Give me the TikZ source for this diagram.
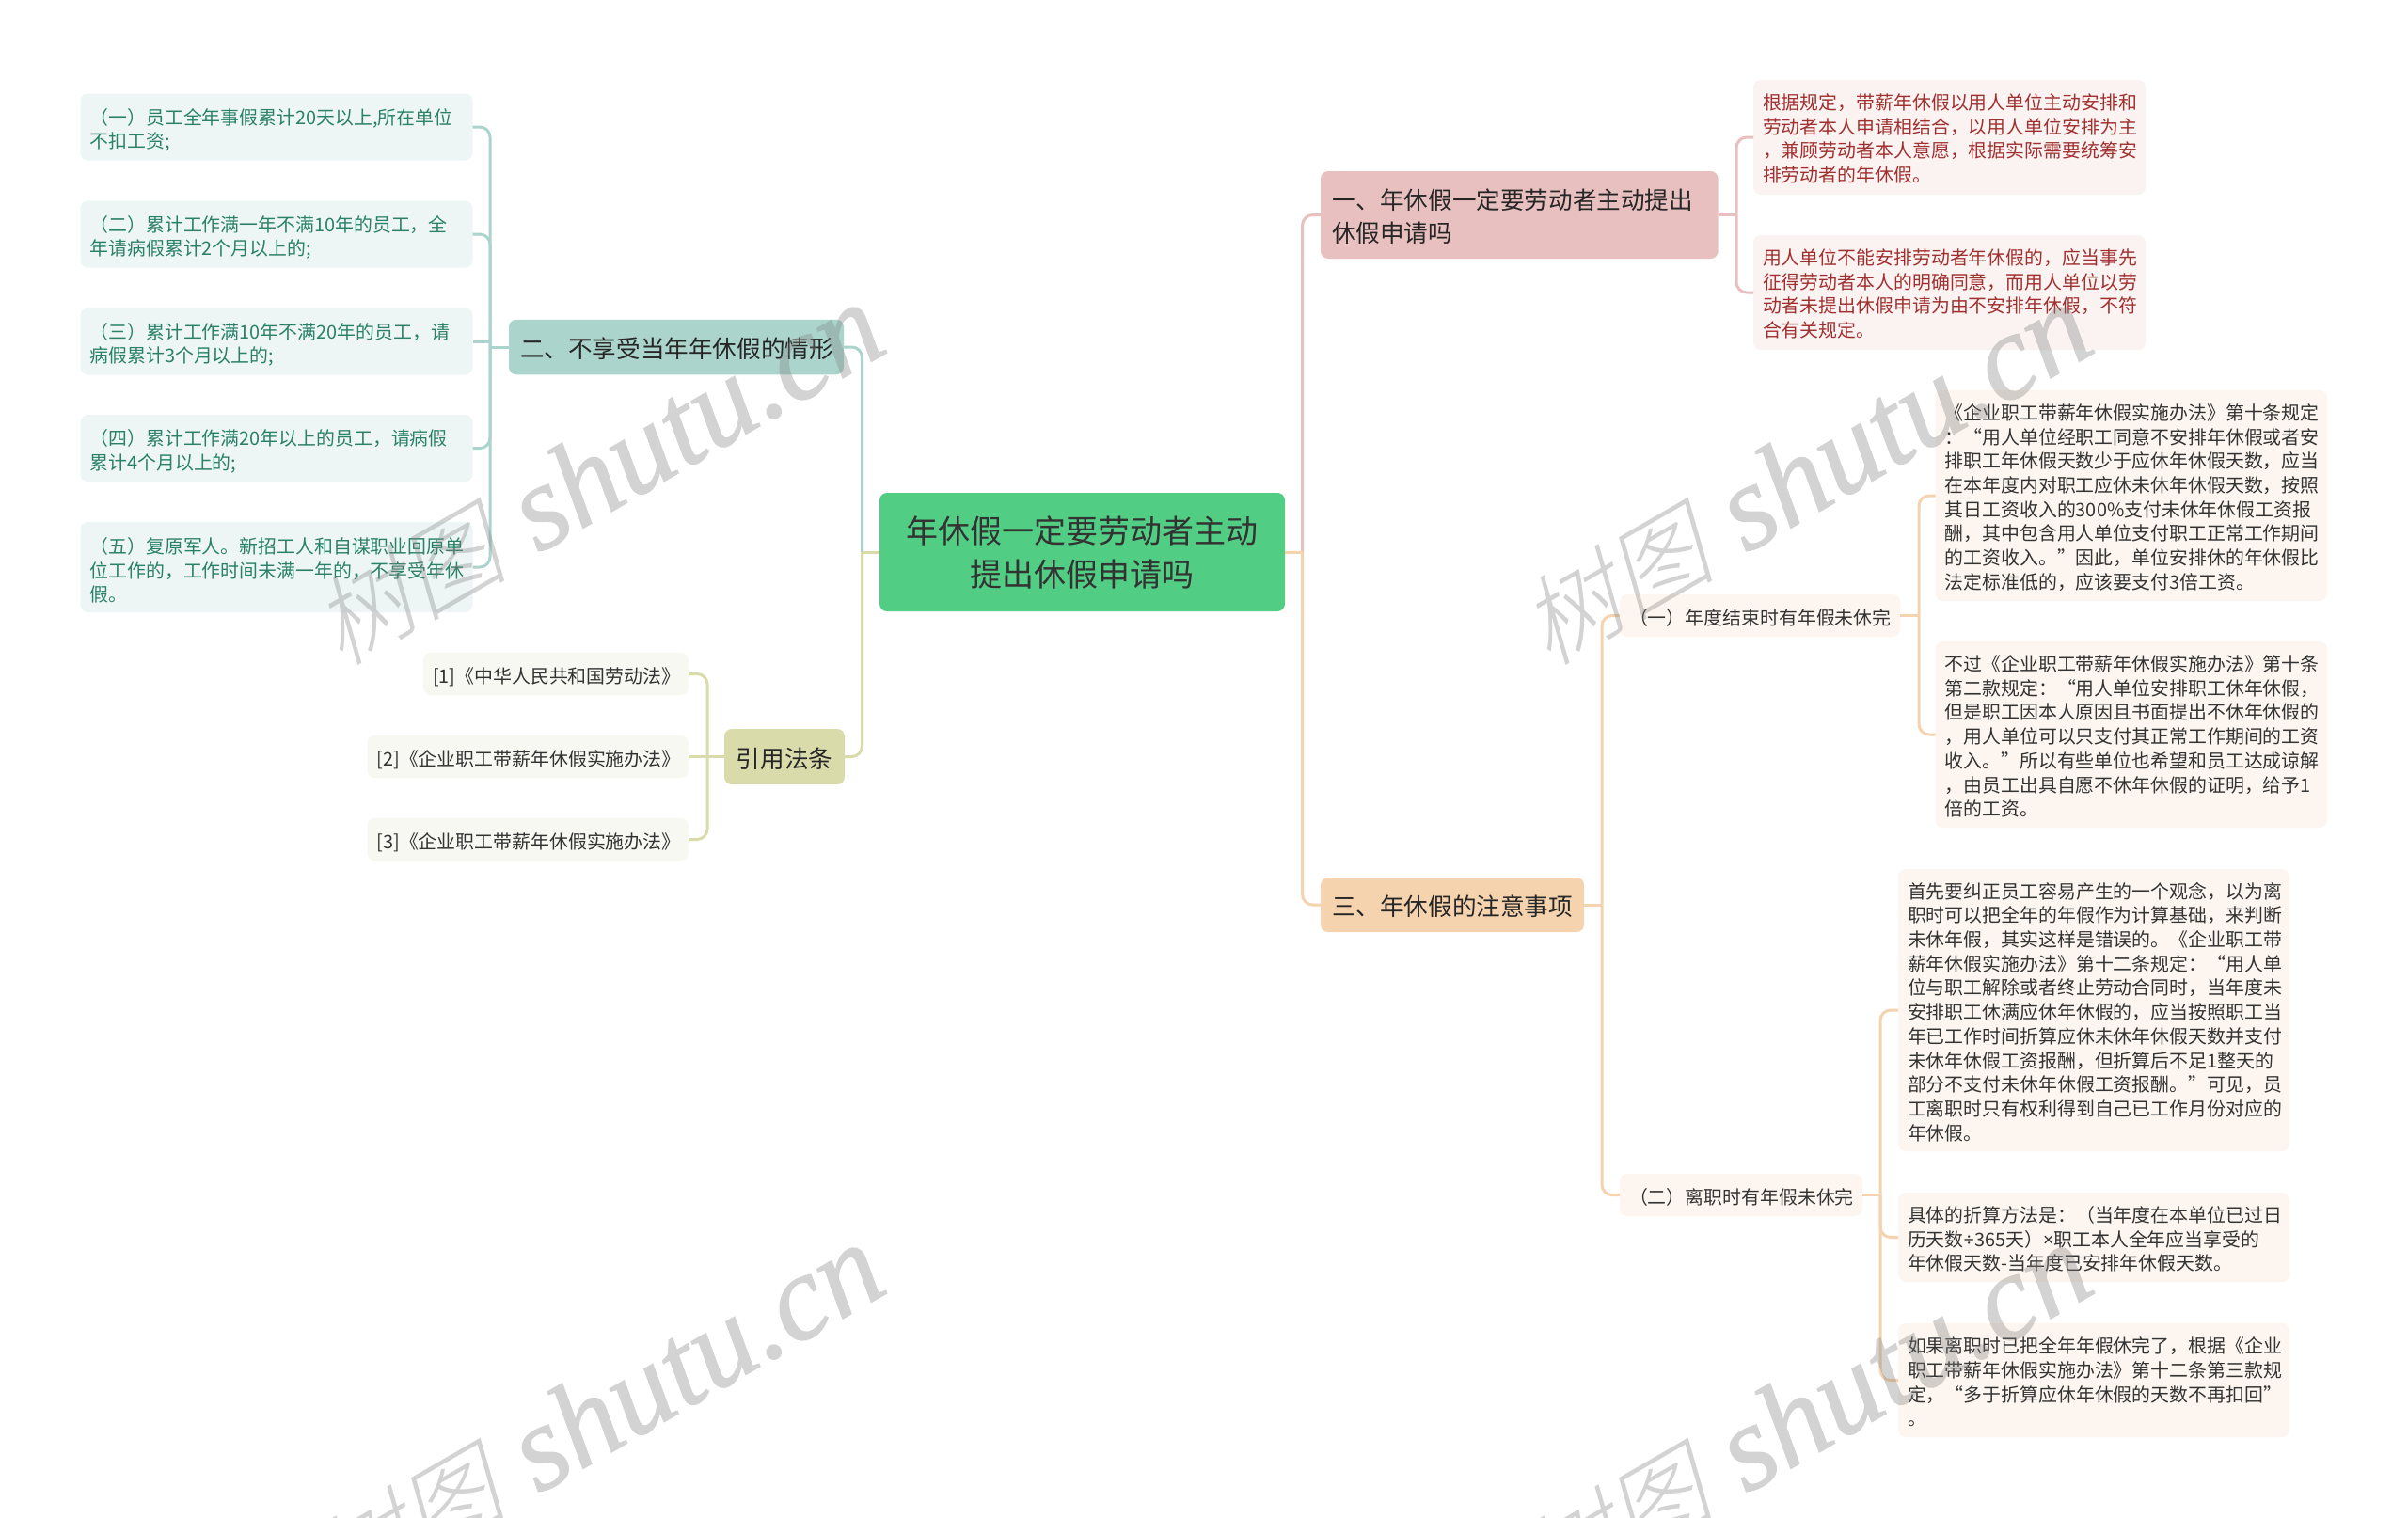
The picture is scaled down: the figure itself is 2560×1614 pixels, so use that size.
\documentclass[tikz,border=0pt]{standalone}
\usepackage{fontspec}
\setmainfont{Noto Sans CJK SC}
\newfontfamily\wmlatin[FakeBold=1]{Liberation Serif Italic}
\newfontfamily\wmcjk[FakeSlant=0.25]{Noto Sans CJK SC Light}
\newfontfamily\latinpart{Noto Sans}
\definecolor{cMain}{HTML}{52CE84}
\definecolor{cTeal}{HTML}{ABD5CC}
\definecolor{cTealL}{HTML}{EEF6F5}
\definecolor{cTealT}{HTML}{2A8068}
\definecolor{cOlive}{HTML}{D9DBAB}
\definecolor{cOliveL}{HTML}{F7F8F2}
\definecolor{cPink}{HTML}{E8C0BF}
\definecolor{cPinkL}{HTML}{FAF3F2}
\definecolor{cPinkT}{HTML}{A03030}
\definecolor{cOrange}{HTML}{F5D3AE}
\definecolor{cOrangeL}{HTML}{FDF6F0}
\definecolor{cText}{HTML}{333333}
\tikzset{
  boxsize/.style 2 args={minimum width=#1pt,minimum height=#2pt,text width=#1pt-20pt},
  branchsize/.style 2 args={minimum width=#1pt,minimum height=#2pt,text width=#1pt-24pt},
  lower/.style={execute at begin node={\rule{0pt}{\dimexpr.9em+#1pt\relax}}},
  basebox/.style={rounded corners=8pt,inner ysep=0pt,outer sep=0pt,inner xsep=10pt,align=left,text=cText,font=\fontsize{19.9}{25.7}\selectfont},
  branch/.style={basebox,inner xsep=12pt,lower=3,font=\fontsize{25.6}{35}\selectfont,text=black!85},
  rootbox/.style={basebox,fill=cMain,align=center,text=black!80,font=\fontsize{34}{46}\selectfont},
  tealleaf/.style={basebox,lower=6,fill=cTealL,text=cTealT},
  oliveleaf/.style={basebox,lower=6,fill=cOliveL,align=center},
  pinkleaf/.style={basebox,lower=2,fill=cPinkL,text=cPinkT},
  orangeleaf/.style={basebox,lower=3,fill=cOrangeL},
  link/.style={line width=3pt,rounded corners=11pt},
  watermark/.style={anchor=base east,rotate=30,text=gray,inner sep=0pt},
}
\newcommand{\wmtext}{{\fontsize{104}{104}\selectfont\wmcjk 树图}\hspace{34pt}{\fontsize{129}{129}\selectfont\wmlatin shutu.cn}}
\begin{document}
\begin{tikzpicture}[x=1pt,y=-1pt]
\useasboundingbox (0,0) rectangle (2560,1614);
\fill[white] (0,0) rectangle (2560,1614);

% nodes
\node[rootbox,boxsize={431}{126}] (root) at (1150.5,587) {年休假一定要劳动者主动\\提出休假申请吗};

\node[branch,fill=cTeal,branchsize={356}{58.5}] (b2) at (719,369) {二、不享受当年年休假的情形};
\node[tealleaf,boxsize={417}{71}] (l1) at (294,135) {（一）员工全年事假累计20天以上,所在单位\\不扣工资;};
\node[tealleaf,boxsize={417}{71}] (l2) at (294,249) {（二）累计工作满一年不满10年的员工，全\\年请病假累计2个月以上的;};
\node[tealleaf,boxsize={417}{71}] (l3) at (294,363) {（三）累计工作满10年不满20年的员工，请\\病假累计3个月以上的;};
\node[tealleaf,boxsize={417}{71}] (l4) at (294,476.6) {（四）累计工作满20年以上的员工，请病假\\累计4个月以上的;};
\node[tealleaf,boxsize={417}{96}] (l5) at (294,603) {（五）复原军人。新招工人和自谋职业回原单\\位工作的，工作时间未满一年的，不享受年休\\假。};

\node[branch,fill=cOlive,align=center,branchsize={128}{59}] (b4) at (834,804.5) {引用法条};
\node[oliveleaf,boxsize={282}{45}] (r1) at (591,716.5) {[1]《中华人民共和国劳动法》};
\node[oliveleaf,boxsize={341.5}{45}] (r2) at (561.25,804.5) {[2]《企业职工带薪年休假实施办法》};
\node[oliveleaf,boxsize={341.5}{45}] (r3) at (561.25,892.5) {[3]《企业职工带薪年休假实施办法》};

\node[branch,fill=cPink,branchsize={422.6}{93}] (b1) at (1615.3,228.5) {一、年休假一定要劳动者主动提出\\休假申请吗};
\node[pinkleaf,boxsize={417}{122}] (p1) at (2072.5,146) {根据规定，带薪年休假以用人单位主动安排和\\劳动者本人申请相结合，以用人单位安排为主\\，兼顾劳动者本人意愿，根据实际需要统筹安\\排劳动者的年休假。};
\node[pinkleaf,boxsize={417}{122}] (p2) at (2072.5,311) {用人单位不能安排劳动者年休假的，应当事先\\征得劳动者本人的明确同意，而用人单位以劳\\动者未提出休假申请为由不安排年休假，不符\\合有关规定。};

\node[branch,fill=cOrange,branchsize={280}{58}] (b3) at (1544,962) {三、年休假的注意事项};
\node[orangeleaf,align=center,boxsize={298}{45}] (s1) at (1871,654.5) {（一）年度结束时有年假未休完};
\node[orangeleaf,align=center,boxsize={258}{45}] (s2) at (1851,1270.5) {（二）离职时有年假未休完};
\node[orangeleaf,boxsize={416.4}{224}] (a1) at (2265.8,527) {《企业职工带薪年休假实施办法》第十条规定\\：“用人单位经职工同意不安排年休假或者安\\排职工年休假天数少于应休年休假天数，应当\\在本年度内对职工应休未休年休假天数，按照\\其日工资收入的300\%支付未休年休假工资报\\酬，其中包含用人单位支付职工正常工作期间\\的工资收入。”因此，单位安排休的年休假比\\法定标准低的，应该要支付3倍工资。};
\node[orangeleaf,boxsize={416.4}{198}] (a2) at (2265.8,781) {不过《企业职工带薪年休假实施办法》第十条\\第二款规定：“用人单位安排职工休年休假，\\但是职工因本人原因且书面提出不休年休假的\\，用人单位可以只支付其正常工作期间的工资\\收入。”所以有些单位也希望和员工达成谅解\\，由员工出具自愿不休年休假的证明，给予1\\倍的工资。};
\node[orangeleaf,boxsize={416}{300}] (c1) at (2226,1074) {首先要纠正员工容易产生的一个观念，以为离\\职时可以把全年的年假作为计算基础，来判断\\未休年假，其实这样是错误的。《企业职工带\\薪年休假实施办法》第十二条规定：“用人单\\位与职工解除或者终止劳动合同时，当年度未\\安排职工休满应休年休假的，应当按照职工当\\年已工作时间折算应休未休年休假天数并支付\\未休年休假工资报酬，但折算后不足1整天的\\部分不支付未休年休假工资报酬。”可见，员\\工离职时只有权利得到自己已工作月份对应的\\年休假。};
\node[orangeleaf,boxsize={416}{95}] (c2) at (2226,1315.5) {具体的折算方法是：（当年度在本单位已过日\\历天数{\latinpart ÷}365天）{\latinpart ×}职工本人全年应当享受的\\年休假天数-当年度已安排年休假天数。};
\node[orangeleaf,boxsize={416}{121}] (c3) at (2226,1467.5) {如果离职时已把全年年假休完了，根据《企业\\职工带薪年休假实施办法》第十二条第三款规\\定，“多于折算应休年休假的天数不再扣回”\\。};

% connectors
\draw[link,cTeal] ([xshift=-18.5pt]root.west) |- (b2.east);
\draw[link,cOlive] ([xshift=-18.5pt]root.west) |- (b4.east);
\draw[link,cOlive] (root.west) -- +(-18.5,0);
\draw[link,cPink] ([xshift=18.6pt]root.east) |- (b1.west);
\draw[link,cOrange] ([xshift=18.6pt]root.east) |- (b3.west);
\draw[link,cOrange] (root.east) -- +(18.6,0);

\draw[link,cTeal] (b2.west) -- +(-20,0);
\draw[link,cTeal] (l3.east) -- +(18.5,0);
\foreach \n in {l1,l2,l4,l5} \draw[link,cTeal] ([xshift=-20pt]b2.west) |- (\n.east);

\draw[link,cOlive] (b4.west) -- (r2.east);
\foreach \n in {r1,r3} \draw[link,cOlive] ([xshift=-18pt]b4.west) |- (\n.east);

\draw[link,cPink] (b1.east) -- +(19.4,0);
\foreach \n in {p1,p2} \draw[link,cPink] ([xshift=19.4pt]b1.east) |- (\n.west);

\draw[link,cOrange] (b3.east) -- +(19,0);
\foreach \n in {s1,s2} \draw[link,cOrange] ([xshift=19pt]b3.east) |- (\n.west);

\draw[link,cOrange] (s1.east) -- +(20,0);
\foreach \n in {a1,a2} \draw[link,cOrange] ([xshift=20pt]s1.east) |- (\n.west);

\draw[link,cOrange] (s2.east) -- +(19,0);
\foreach \n in {c1,c2,c3} \draw[link,cOrange] ([xshift=19pt]s2.east) |- (\n.west);

% watermarks
\begin{scope}[transparency group,opacity=.34]
\node[watermark] (w1) at (948,372) {\wmtext};
\node[watermark] (w2) at (2232,372) {\wmtext};
\node[watermark] (w3) at (948,1372) {\wmtext};
\node[watermark] (w4) at (2232,1372) {\wmtext};
\end{scope}
\end{tikzpicture}
\end{document}
